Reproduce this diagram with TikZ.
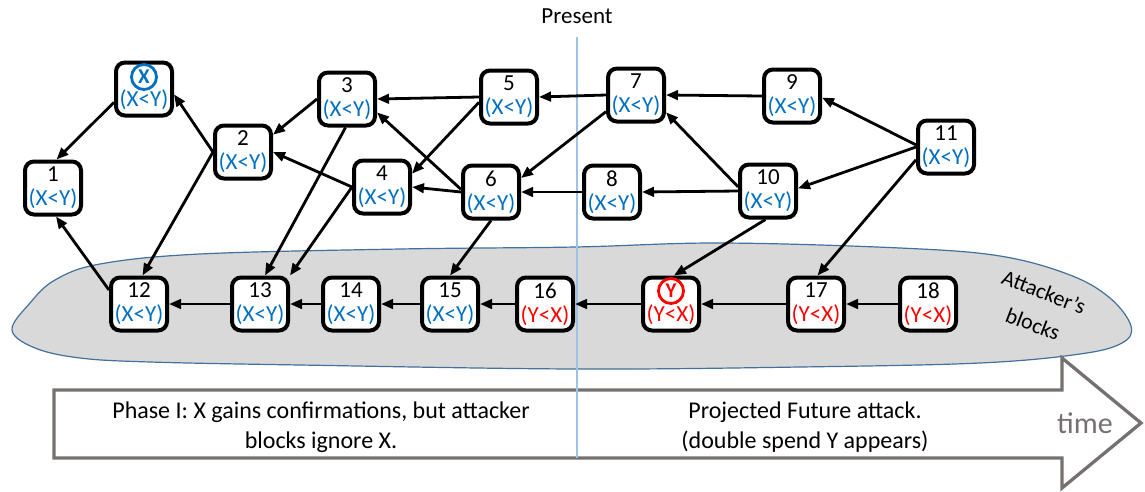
\documentclass[tikz,border=0pt]{standalone}
\usepackage{fontspec}
\setmainfont{Carlito}
\usetikzlibrary{arrows.meta}
\definecolor{xblue}{HTML}{0070C0}
\definecolor{yred}{HTML}{FF0000}
\definecolor{blobfill}{HTML}{D9D9D9}
\definecolor{blobline}{HTML}{41719C}
\definecolor{arrgray}{HTML}{767171}
\definecolor{presline}{HTML}{9DC3E6}
\begin{document}
\begin{tikzpicture}[x=1pt,y=-1pt,
  blk/.style={draw,line width=4pt,rounded corners=9pt,minimum width=56pt,minimum height=53pt,inner sep=0pt,fill=white,align=center,font=\fontsize{23}{24}\selectfont},
  conn/.style={line width=2.8pt,-{Triangle[length=12pt,width=9.5pt]}},
  circmark/.style={circle,line width=2.8pt,inner sep=0pt,minimum size=25pt,font=\bfseries\fontsize{21}{21}\selectfont},
  bigtext/.style={align=center,font=\fontsize{24}{30}\selectfont},
  atttext/.style={rotate=-21,font=\fontsize{22}{22}\selectfont,inner sep=0pt}]
\useasboundingbox (0,0) rectangle (1145,491);
\fill[white] (0,0) rectangle (1145,491);

% attacker blob
\draw[fill=blobfill,draw=blobline,line width=1.2pt] plot[smooth cycle,tension=0.6] coordinates {
 (12,330) (30,303) (55,280) (100,264) (200,254) (400,249) (575,247) (720,243) (900,248) (1000,256) (1070,275) (1110,298) (1131,326) (1122,343) (1080,354) (980,363) (800,367) (575,369) (300,365) (150,362) (80,358) (35,348)};
\node[atttext] (att1) at (1044,292) {Attacker’s};
\node[atttext] (att2) at (1033,324) {blocks};

% time arrow
\draw[arrgray,line width=3.3pt,fill=white,miter limit=10] (54,390) -- (1062,390) -- (1062,358) -- (1141,423) -- (1062,488) -- (1062,458) -- (54,458) -- cycle;
\node[bigtext] (ph1) at (321,427) {Phase I: X gains confirmations, but attacker\\blocks ignore X.};
\node[bigtext] (ph2) at (805,427) {Projected Future attack.\\(double spend Y appears)};
\node[text=arrgray,font=\fontsize{30}{30}\selectfont] (time) at (1085,423) {time};

% present line
\node[font=\fontsize{23}{23}\selectfont] (pres) at (577,16) {Present};
\coordinate (ptop) at (577,37);
\coordinate (pbot) at (577,458);
\draw[presline,line width=1.2pt] (ptop) -- (pbot);

% honest blocks
\node[blk] (bx) at (144,89) {\phantom{0}\\\textcolor{xblue}{(X<Y)}};
\node[circmark,draw=xblue,text=xblue] (xc) at (144,77) {X};
\node[blk] (n1) at (53,188) {1\\\textcolor{xblue}{(X<Y)}};
\node[blk] (n2) at (243,152) {2\\\textcolor{xblue}{(X<Y)}};
\node[blk] (n3) at (347,99) {3\\\textcolor{xblue}{(X<Y)}};
\node[blk] (n4) at (382,187) {4\\\textcolor{xblue}{(X<Y)}};
\node[blk] (n5) at (509,97) {5\\\textcolor{xblue}{(X<Y)}};
\node[blk] (n6) at (491,192) {6\\\textcolor{xblue}{(X<Y)}};
\node[blk] (n7) at (636,95) {7\\\textcolor{xblue}{(X<Y)}};
\node[blk] (n8) at (612,192) {8\\\textcolor{xblue}{(X<Y)}};
\node[blk] (n9) at (792,96) {9\\\textcolor{xblue}{(X<Y)}};
\node[blk] (n10) at (768,191) {10\\\textcolor{xblue}{(X<Y)}};
\node[blk] (n11) at (946,147) {11\\\textcolor{xblue}{(X<Y)}};

% attacker blocks
\node[blk] (n12) at (139,304) {12\\\textcolor{xblue}{(X<Y)}};
\node[blk] (n13) at (260,304) {13\\\textcolor{xblue}{(X<Y)}};
\node[blk] (n14) at (351,304) {14\\\textcolor{xblue}{(X<Y)}};
\node[blk] (n15) at (450,304) {15\\\textcolor{xblue}{(X<Y)}};
\node[blk] (n16) at (545,304) {16\\\textcolor{yred}{(Y<X)}};
\node[blk] (by) at (671,304) {\phantom{0}\\\textcolor{yred}{(Y<X)}};
\node[circmark,draw=yred,text=yred] (yc) at (671,291) {Y};
\node[blk] (n17) at (816,304) {17\\\textcolor{yred}{(Y<X)}};
\node[blk] (n18) at (928,304) {18\\\textcolor{yred}{(Y<X)}};

% connectors
\draw[conn] (bx.204) -- (n1.83);
\draw[conn] (n2.west) -- (bx.-10);
\draw[conn] (n3.west) -- (n2.30);
\draw[conn] (n4.west) -- (n2.east);
\draw[conn] (n5.west) -- (n3.east);
\draw[conn] (n5.190) -- (n4.24);
\draw[conn] (n6.175) -- (n3.-24);
\draw[conn] (n6.west) -- (n4.east);
\draw[conn] (n7.west) -- (n5.east);
\draw[conn] (n7.209) -- (n6.25);
\draw[conn] (n8.west) -- (n6.east);
\draw[conn] (n9.west) -- (n7.east);
\draw[conn] (n10.172) -- (n7.-30);
\draw[conn] (n10.west) -- (n8.east);
\draw[conn] (n11.176) -- (n9.-3);
\draw[conn] (n11.west) -- (n10.5);
\draw[conn] (n11.203) -- (n17.87);
\draw[conn] (n10.-95) -- (by.84);
\draw[conn] (n12.155) -- (n1.-84);
\draw[conn] (n2.west) -- (n12.83);
\draw[conn] (n3.-93) -- (n13.80);
\draw[conn] (n4.west) -- (n13.north east);
\draw[conn] (n6.south) -- (n15.north);
\draw[conn] (n13.west) -- (n12.east);
\draw[conn] (n14.west) -- (n13.east);
\draw[conn] (n15.west) -- (n14.east);
\draw[conn] (n16.west) -- (n15.east);
\draw[conn] (by.west) -- (n16.east);
\draw[conn] (n17.west) -- (by.east);
\draw[conn] (n18.west) -- (n17.east);
\end{tikzpicture}
\end{document}
